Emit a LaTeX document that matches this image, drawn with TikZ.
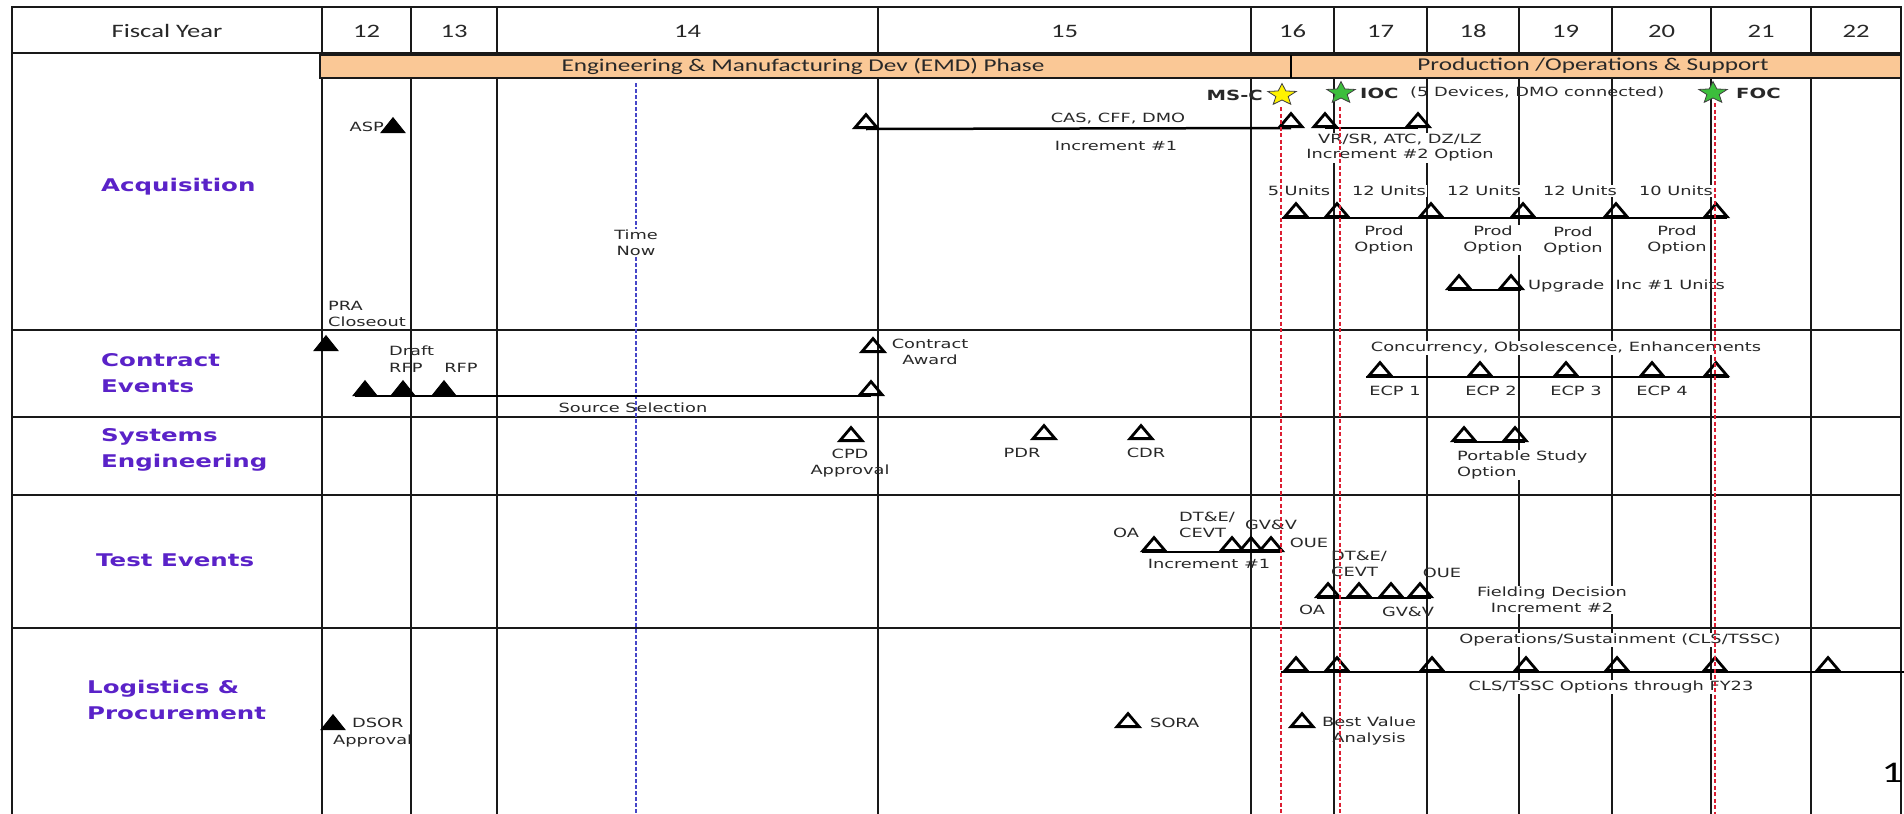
\documentclass[tikz,border=0pt]{standalone}
\usepackage{fontspec}
\setmainfont[FakeStretch=1.4]{DejaVu Sans}
\newfontfamily\calfont[FakeStretch=1.4]{Carlito}
\usetikzlibrary{shapes.geometric}

\definecolor{rowpurple}{RGB}{90,34,200}
\definecolor{phaseorange}{RGB}{250,200,150}
\definecolor{txtgray}{RGB}{40,40,40}
\definecolor{nowblue}{RGB}{70,70,200}
\definecolor{iocgreen}{RGB}{60,190,60}
\definecolor{dashred}{RGB}{220,30,50}

\begin{document}
\begin{tikzpicture}[x=1pt,y=-1pt,
  gridln/.style={draw=black!90,line width=1.4pt},
  hdr/.style={font=\calfont\fontsize{19}{22}\selectfont,text=txtgray,inner sep=0pt},
  phasetxt/.style={font=\calfont\fontsize{18}{22}\selectfont,text=txtgray,inner sep=0pt},
  rowlbl/.style={font=\fontsize{17.5}{26}\selectfont\bfseries,text=rowpurple,align=left,anchor=west,inner sep=0pt},
  lbl/.style={font=\fontsize{12.7}{16.5}\selectfont,text=txtgray,inner sep=1pt},
  lblw/.style={lbl,fill=white},
  milestone/.style={font=\fontsize{14}{17}\selectfont\bfseries,text=txtgray,inner sep=0pt},
  otri/.style={isosceles triangle,isosceles triangle stretches=true,shape border rotate=90,
    minimum width=22pt,minimum height=13pt,inner sep=0pt,draw,line width=2.8pt,anchor=south},
  ftri/.style={otri,fill=black,line width=0.8pt,minimum width=24pt,minimum height=15pt},
  tline/.style={line width=2.5pt},
  redln/.style={dashred,line width=1.2pt,dash pattern=on 4pt off 2.5pt},
  nowln/.style={nowblue,line width=1.1pt,dash pattern=on 4pt off 2pt},
  mstar/.style={star,star points=5,star point ratio=2.3,minimum size=23pt,inner sep=0pt,
    draw=black!75,line width=0.8pt,xscale=1.3,transform shape}]

\useasboundingbox (0,0) rectangle (1904,814);

% table
\draw[gridln] (12,7) rectangle (1901,830);
\foreach \y in {53,330,417,495,628}
  \draw[gridln] (12,\y) -- (1901,\y);
\foreach \x in {322,411,497,878,1251,1334,1427,1519,1612,1711,1811}
  \draw[gridln] (\x,7) -- (\x,830);

\node[hdr] (fy) at (167,31) {Fiscal Year};
\foreach \yr/\l/\r in {12/322/411,13/411/497,14/497/878,15/878/1251,16/1251/1334,17/1334/1427,
    18/1427/1519,19/1519/1612,20/1612/1711,21/1711/1811,22/1811/1901}
  \node[hdr] (fy\yr) at ({(\l+\r)/2},31) {\yr};

% time now
\coordinate (nowtop) at (636,83);
\coordinate (nowbot) at (636,814);
\draw[nowln] (nowtop) -- (nowbot);
\node[lblw,align=center] (now) at (636,243) {Time\\Now};

% phases
\draw[gridln,fill=phaseorange] (320,55) rectangle (1291,78);
\draw[gridln,fill=phaseorange] (1291,55) rectangle (1901,78);
\draw[line width=2.6pt] (1291,55) -- (1291,78);
\node[phasetxt] (emd) at (803,66) {Engineering \& Manufacturing Dev (EMD) Phase};
\node[phasetxt] (prod) at (1593,66) {Production /Operations \& Support};

% row titles
\node[rowlbl] (acq) at (101,187) {Acquisition};
\node[rowlbl] (con) at (101,373) {Contract\\Events};
\node[rowlbl] (sys) at (101,450) {Systems\\Engineering};
\node[rowlbl] (tst) at (96,560) {Test Events};
\node[rowlbl] (log) at (87,700) {Logistics \&\\Procurement};

% acquisition
\node[ftri] (asp) at (393,133) {};
\node[lbl,anchor=east] (asplbl) at (asp.west) {ASP};
\node[otri] (inc1a) at (866,129) {};
\node[otri] (inc1b) at (1291,128) {};
\draw[tline] (inc1a.south) -- (inc1b.south);
\node[lbl] (cas) at (1118,119) {CAS, CFF, DMO};
\node[lbl] (inc1) at (1116,146) {Increment \#1};
\node[otri] (inc2a) at (1325,128) {};
\node[otri] (inc2b) at (1418,128) {};
\draw[tline] (inc2a.south) -- (inc2b.south);
\node[lblw,align=center,font=\fontsize{12.7}{15}\selectfont] (inc2) at (1400,148) {VR/SR, ATC, DZ/LZ\\Increment \#2 Option};

\foreach \n/\x in {1/1296,2/1337,3/1431,4/1523,5/1616,6/1716}
  \node[otri] (u\n) at (\x,218) {};
\draw[tline,shorten <=-14pt,shorten >=-11pt] (u1.south) -- (u6.south);
\node[lblw] (un1) at (1299,191) {5 Units};
\node[lblw] (un2) at (1389,191) {12 Units};
\node[lblw] (un3) at (1484,191) {12 Units};
\node[lblw] (un4) at (1580,191) {12 Units};
\node[lblw] (un5) at (1676,191) {10 Units};
\node[lblw,align=center] (po1) at (1384,240) {Prod\\Option};
\node[lblw,align=center] (po2) at (1493,240) {Prod\\Option};
\node[lblw,align=center] (po3) at (1573,241) {Prod\\Option};
\node[lblw,align=center] (po4) at (1677,240) {Prod\\Option};

\node[otri] (up1) at (1459,290) {};
\node[otri] (up2) at (1511,290) {};
\draw[tline,shorten <=-11pt,shorten >=-10pt] (up1.south) -- (up2.south);
\node[lbl,anchor=west] (uplbl) at (1527,286) {Upgrade\ \ Inc \#1 Units};
\node[lbl,align=left,anchor=west] (pralbl) at (327,314) {PRA\\Closeout};

% contract events
\node[ftri] (pra) at (326,351) {};
\node[ftri] (ss0) at (365,396) {};
\node[ftri] (drfp) at (403,396) {};
\node[ftri] (rfp) at (444,396) {};
\node[otri] (ss) at (871,396) {};
\draw[tline,shorten <=-10pt] (ss0.south) -- (ss.south);
\node[lbl,align=left,anchor=west] (drfplbl) at (388,359) {Draft\\RFP};
\node[lbl] (rfplbl) at (461,368) {RFP};
\node[lbl] (sslbl) at (633,408) {Source Selection};
\node[otri] (award) at (873,353) {};
\node[lbl,align=center] (awardlbl) at (930,352) {Contract\\Award};

\node[lblw] (coe) at (1566,348) {Concurrency, Obsolescence, Enhancements};
\foreach \n/\x in {1/1380,2/1480,3/1566,4/1652,5/1716}
  \node[otri] (ecp\n) at (\x,377) {};
\draw[tline,shorten <=-14pt,shorten >=-13pt] (ecp1.south) -- (ecp5.south);
\node[lblw] (ecp1lbl) at (1395,391) {ECP 1};
\node[lblw] (ecp2lbl) at (1491,391) {ECP 2};
\node[lblw] (ecp3lbl) at (1576,391) {ECP 3};
\node[lblw] (ecp4lbl) at (1662,391) {ECP 4};

% systems engineering
\node[otri] (cpd) at (851,442) {};
\node[lbl,align=center] (cpdlbl) at (850,463) {CPD\\Approval};
\node[otri] (pdr) at (1044,440) {};
\node[lbl] (pdrlbl) at (1022,453) {PDR};
\node[otri] (cdr) at (1141,440) {};
\node[lbl] (cdrlbl) at (1146,453) {CDR};
\node[otri] (ps1) at (1464,442) {};
\node[otri] (ps2) at (1515,442) {};
\draw[tline,shorten <=-10pt,shorten >=-10pt] (ps1.south) -- (ps2.south);
\node[lblw,align=left,anchor=west] (pslbl) at (1456,465) {Portable Study\\Option};

% test events
\node[otri] (oa1) at (1154,552) {};
\node[otri] (dt1) at (1232,552) {};
\node[otri] (gv1) at (1251,552) {};
\node[otri] (oue1) at (1271,552) {};
\draw[tline,shorten <=-12pt,shorten >=-9pt] (oa1.south) -- (oue1.south);
\node[lbl] (oa1lbl) at (1126,533) {OA};
\node[lbl,align=left,anchor=west] (dt1lbl) at (1178,525) {DT\&E/\\CEVT};
\node[lbl] (gv1lbl) at (1271,525) {GV\&V};
\node[lbl] (oue1lbl) at (1309,543) {OUE};
\node[lbl] (inc1t) at (1209,564) {Increment \#1};

\node[otri] (oa2) at (1328,598) {};
\node[otri] (dt2) at (1359,598) {};
\node[otri] (gv2) at (1391,598) {};
\node[otri] (oue2) at (1420,598) {};
\draw[tline,shorten <=-11pt,shorten >=-11pt] (oa2.south) -- (oue2.south);
\node[lbl,align=left,anchor=west] (dt2lbl) at (1330,564) {DT\&E/\\CEVT};
\node[lbl] (oue2lbl) at (1442,573) {OUE};
\node[lbl] (oa2lbl) at (1312,610) {OA};
\node[lbl] (gv2lbl) at (1408,612) {GV\&V};
\node[lblw,align=center] (fld) at (1552,600) {Fielding Decision\\Increment \#2};

% logistics and procurement
\node[ftri] (dsor) at (333,730) {};
\node[lbl,anchor=west] (dsorlbl) at (351,723) {DSOR};
\node[lbl,anchor=west] (dsorapp) at (332,741) {Approval};
\node[otri] (sora) at (1128,728) {};
\node[lbl,anchor=west] (soralbl) at (1149,723) {SORA};
\node[otri] (bva) at (1302,728) {};
\node[lbl,align=center] (bvalbl) at (1369,731) {Best Value\\Analysis};

\node[lblw] (ops) at (1620,640) {Operations/Sustainment (CLS/TSSC)};
\foreach \n/\x in {1/1296,2/1337,3/1432,4/1526,5/1617,6/1715,7/1828}
  \node[otri] (cls\n) at (\x,672) {};
\coordinate (clsend) at (1904,672);
\draw[tline,shorten <=-15pt] (cls1.south) -- (clsend);
\node[lblw] (clslbl) at (1611,687) {CLS/TSSC Options through FY23};

% milestone lines and stars
\foreach \n/\x/\y in {msc/1281/107,ioc/1340/107,foc/1715/103}{
  \coordinate (\n top) at (\x,\y);
  \coordinate (\n bot) at (\x,814);
  \draw[redln] (\n top) -- (\n bot);
}
\node[mstar,fill=yellow] (mscstar) at (1282,95) {};
\node[milestone,anchor=east] (msclbl) at (1263,95) {MS-C};
\node[mstar,fill=iocgreen] (iocstar) at (1341,93) {};
\node[milestone,anchor=west] (ioclbl) at (1360,93) {IOC};
\node[lbl,anchor=west] (iocnote) at (1409,93) {(5 Devices, DMO connected)};
\node[mstar,fill=iocgreen] (focstar) at (1713,93) {};
\node[milestone,anchor=west] (foclbl) at (1736,93) {FOC};

\node[font=\calfont\fontsize{30}{32}\selectfont,anchor=east,inner sep=0pt] (pgno) at (1903,773) {1};
\end{tikzpicture}
\end{document}
